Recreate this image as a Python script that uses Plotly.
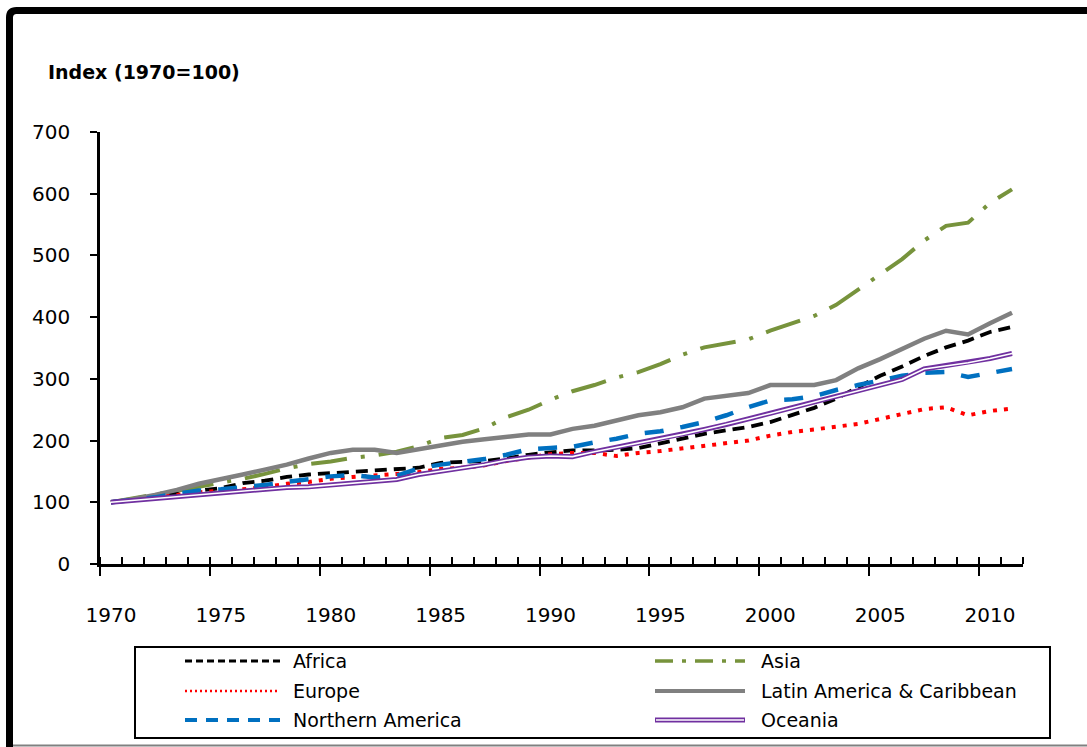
import plotly.graph_objects as go

years = list(range(1970, 2012))

africa = [100, 105, 110, 115, 119, 123, 131, 135, 141, 145, 147, 149, 152, 153, 156, 164, 165, 167, 171, 177,
          181, 184, 184, 185, 188, 195, 203, 211, 217, 222, 230, 241, 253, 268, 287, 305, 320, 337, 351, 362,
          376, 384]
asia = [100, 106, 113, 119, 125, 132, 138, 146, 155, 162, 166, 172, 176, 182, 191, 204, 209, 220, 238, 250,
        266, 280, 290, 302, 311, 324, 339, 351, 357, 364, 378, 390, 402, 420, 445, 469, 494, 524, 548, 553,
        585, 607]
europe = [100, 104, 109, 113, 116, 119, 121, 125, 130, 133, 138, 141, 143, 146, 149, 154, 156, 160, 167, 173,
          178, 180, 180, 175, 180, 183, 187, 191, 196, 200, 208, 214, 218, 222, 227, 235, 243, 251, 254, 241,
          248, 252]
latin = [100, 105, 112, 120, 130, 137, 145, 153, 161, 171, 180, 185, 185, 180, 186, 193, 198, 202, 206, 210,
         210, 219, 224, 233, 241, 246, 254, 268, 273, 277, 290, 290, 290, 298, 317, 332, 348, 365, 378, 372,
         390, 407]
north_am = [100, 104, 108, 114, 119, 121, 124, 128, 133, 138, 142, 144, 140, 143, 155, 161, 165, 170, 177, 186,
            188, 190, 197, 203, 211, 215, 222, 230, 241, 254, 265, 267, 272, 282, 290, 297, 305, 310, 311, 303,
            310, 316]
oceania = [100, 103, 107, 110, 112, 115, 118, 121, 124, 125, 128, 132, 135, 137, 145, 150, 155, 161, 168, 173,
           175, 174, 182, 189, 195, 202, 210, 218, 226, 235, 244, 253, 262, 271, 280, 290, 299, 316, 321, 326,
           333, 341]

tick_years = [1970, 1975, 1980, 1985, 1990, 1995, 2000, 2005, 2010]
y_ticks = [0, 100, 200, 300, 400, 500, 600, 700]

FONT = "DejaVu Sans"

series = [
    ("Africa", africa, dict(color="black", width=3.8, dash="12px,7px")),
    ("Asia", asia, dict(color="#77933C", width=4, dash="36px,14px,4px,14px")),
    ("Europe", europe, dict(color="#FF0000", width=4, dash="4px,7px")),
    ("Latin America & Caribbean", latin, dict(color="#808080", width=4.5)),
    ("Northern America", north_am, dict(color="#0070C0", width=4.5, dash="19px,17px")),
]

fig = go.Figure()
for name, vals, line in series:
    fig.add_trace(go.Scatter(x=years, y=vals, mode="lines", name=name, line=line, showlegend=False))
fig.add_trace(go.Scatter(x=years, y=oceania, mode="lines", name="Oceania",
                         line=dict(color="#7030A0", width=5), showlegend=False))
fig.add_trace(go.Scatter(x=years, y=oceania, mode="lines", name="Oceania",
                         line=dict(color="white", width=1.6), showlegend=False, hoverinfo="skip"))

L, R, T, B = 100, 64, 132, 183
W, H = 1087, 747
PW, PH = W - L - R, H - T - B


def px(x):
    return (x - L) / PW


def py(y):
    return (H - B - y) / PH


shapes = []
annotations = []

# outer frame (rounded top-left corner)
fx, fy, r = 9.5, 10.5, 7
path = (f"M {px(fx)},{py(H + 20)} L {px(fx)},{py(fy + r)} "
        f"Q {px(fx)},{py(fy)} {px(fx + r)},{py(fy)} L {px(W + 20)},{py(fy)}")
shapes.append(dict(type="path", xref="paper", yref="paper", path=path,
                   line=dict(color="black", width=7)))
shapes.append(dict(type="line", xref="paper", yref="paper", x0=px(13), x1=px(W + 5),
                   y0=py(745.5), y1=py(745.5), line=dict(color="#808080", width=2)))

# legend box
shapes.append(dict(type="rect", xref="paper", yref="paper", x0=px(135), x1=px(1050),
                   y0=py(647), y1=py(738), line=dict(color="black", width=2), fillcolor="white"))

legend_items = [
    ("Africa", dict(color="black", width=3, dash="7px,4px"), 185, 280, 291, 661),
    ("Asia", dict(color="#77933C", width=3.5, dash="18px,9px,4px,9px"), 655, 745, 759, 661),
    ("Europe", dict(color="#FF0000", width=2.5, dash="2px,3px"), 185, 280, 291, 691),
    ("Latin America & Caribbean", dict(color="#808080", width=4), 655, 745, 759, 691),
    ("Northern America", dict(color="#0070C0", width=4, dash="12px,9px"), 185, 280, 291, 720),
]
for name, ln, x0, x1, tx, ty in legend_items:
    shapes.append(dict(type="line", xref="paper", yref="paper", x0=px(x0), x1=px(x1),
                       y0=py(ty), y1=py(ty), line=ln))
    annotations.append(dict(text=name, xref="paper", yref="paper", x=px(tx), y=py(ty),
                            xanchor="left", yanchor="middle", showarrow=False,
                            font=dict(family=FONT, size=19, color="black")))
# Oceania legend (double line)
shapes.append(dict(type="line", xref="paper", yref="paper", x0=px(655), x1=px(745),
                   y0=py(720), y1=py(720), line=dict(color="#7030A0", width=5)))
shapes.append(dict(type="line", xref="paper", yref="paper", x0=px(656), x1=px(744),
                   y0=py(720), y1=py(720), line=dict(color="white", width=1.6)))
annotations.append(dict(text="Oceania", xref="paper", yref="paper", x=px(759), y=py(720),
                        xanchor="left", yanchor="middle", showarrow=False,
                        font=dict(family=FONT, size=19, color="black")))

annotations.append(dict(text="<b>Index (1970=100)</b>", xref="paper", yref="paper",
                        x=px(46), y=py(72), xanchor="left", yanchor="middle", showarrow=False,
                        font=dict(family=FONT, size=19, color="black")))

fig.update_layout(
    width=W, height=H,
    margin=dict(l=L, r=R, t=T, b=B, pad=0),
    paper_bgcolor="white", plot_bgcolor="white",
    showlegend=False,
    shapes=shapes, annotations=annotations,
    font=dict(family=FONT, size=20, color="black"),
    xaxis=dict(
        range=[1969.5, 2011.5], tickmode="array",
        tickvals=[y - 0.5 for y in tick_years], ticktext=[str(y) for y in tick_years],
        ticks="outside", ticklen=9, tickwidth=2, tickcolor="black",
        ticklabelshift=11, ticklabelstandoff=22,
        minor=dict(tickmode="array", tickvals=[y - 0.5 for y in years] + [2011.5],
                   ticks="inside", ticklen=7, tickwidth=2, tickcolor="black"),
        showline=True, linecolor="black", linewidth=2.5,
        showgrid=False, zeroline=False,
        tickfont=dict(family=FONT, size=20, color="black"),
    ),
    yaxis=dict(
        range=[0, 700], tickmode="array", tickvals=y_ticks,
        ticks="outside", ticklen=7, tickwidth=2, tickcolor="black",
        ticklabelstandoff=16,
        showline=True, linecolor="black", linewidth=2.5,
        showgrid=False, zeroline=False,
        tickfont=dict(family=FONT, size=20, color="black"),
    ),
)

fig.write_html("out.html", config={"displayModeBar": False},
               post_script="document.body.style.margin='0';document.body.style.overflow='hidden';")
